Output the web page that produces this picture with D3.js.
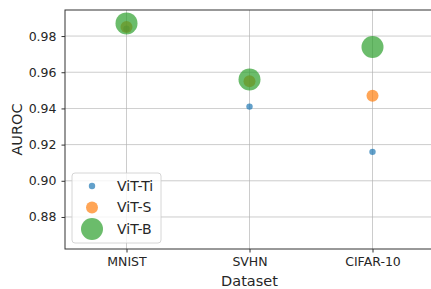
<!DOCTYPE html>
<html>
<head>
<meta charset="utf-8">
<script src="https://cdn.jsdelivr.net/npm/d3@7"></script>
<style>
  body { margin: 0; background: #fff; }
  text { font-family: "DejaVu Sans", sans-serif; fill: #262626; }
</style>
</head>
<body>
<div id="chart"></div>
<script>
// chart data
const datasets = ["MNIST", "SVHN", "CIFAR-10"];
const models = ["ViT-Ti", "ViT-S", "ViT-B"];
const vitTi = [0.984, 0.941, 0.916];
const vitS = [0.985, 0.955, 0.947];
const vitB = [0.987, 0.956, 0.974];
const yTicks = [0.88, 0.90, 0.92, 0.94, 0.96, 0.98];

const series = [
  {name: models[0], values: vitTi, color: "#1f77b4", r: 3.2},
  {name: models[1], values: vitS, color: "#ff7f0e", r: 6},
  {name: models[2], values: vitB, color: "#2ca02c", r: 11}
];

const svgWidth = 431, svgHeight = 289;
const margin = {top: 10, right: -3, bottom: 40, left: 65};
const width = svgWidth - margin.left - margin.right;
const height = svgHeight - margin.top - margin.bottom;

const svg = d3.select("#chart").append("svg")
  .attr("width", svgWidth)
  .attr("height", svgHeight);

const g = svg.append("g")
  .attr("transform", "translate(" + margin.left + "," + margin.top + ")");

const x = d3.scaleLinear().domain([-0.5, 2.5]).range([0, width]);
const y = d3.scaleLinear().domain([0.8623, 0.9944]).range([height, 0]);

// grid
g.append("g").selectAll("line").data(yTicks).enter().append("line")
  .attr("x1", 0).attr("x2", width)
  .attr("y1", d => y(d)).attr("y2", d => y(d))
  .attr("stroke", "#b0b0b0").attr("stroke-width", 0.8).attr("opacity", 0.8);
g.append("g").selectAll("line").data(datasets).enter().append("line")
  .attr("x1", (d, i) => x(i)).attr("x2", (d, i) => x(i))
  .attr("y1", 0).attr("y2", height)
  .attr("stroke", "#b0b0b0").attr("stroke-width", 0.8).attr("opacity", 0.8);

// axes
const xAxis = g.append("g")
  .attr("transform", "translate(0," + height + ")")
  .call(d3.axisBottom(x).tickValues([0, 1, 2]).tickFormat(i => datasets[i]).tickSize(3.5).tickPadding(5));
const yAxis = g.append("g")
  .call(d3.axisLeft(y).tickValues(yTicks).tickFormat(d3.format(".2f")).tickSize(3.5).tickPadding(5));
[xAxis, yAxis].forEach(a => {
  a.selectAll("text").style("font-size", "12.5px").style("font-family", "DejaVu Sans").attr("fill", "#262626");
  a.selectAll("line").attr("stroke", "#333");
  a.select(".domain").remove();
});

// frame
g.append("rect")
  .attr("x", 0).attr("y", 0).attr("width", width).attr("height", height)
  .attr("fill", "none").attr("stroke", "#333").attr("stroke-width", 1);

// points
series.forEach(s => {
  g.append("g").selectAll("circle").data(s.values).enter().append("circle")
    .attr("cx", (d, i) => x(i))
    .attr("cy", d => y(d))
    .attr("r", s.r)
    .attr("fill", s.color)
    .attr("fill-opacity", 0.7);
});

// axis labels
svg.append("text")
  .attr("x", margin.left + x(1)).attr("y", 286)
  .attr("text-anchor", "middle")
  .style("font-size", "14.5px")
  .text("Dataset");
svg.append("text")
  .attr("transform", "translate(22," + (margin.top + height / 2) + ") rotate(-90)")
  .attr("text-anchor", "middle")
  .style("font-size", "14.5px")
  .text("AUROC");

// legend
const legend = svg.append("g").attr("transform", "translate(72,173)");
legend.append("rect")
  .attr("width", 89).attr("height", 70).attr("rx", 3)
  .attr("fill", "#fff").attr("fill-opacity", 0.8)
  .attr("stroke", "#ccc").attr("stroke-width", 0.8);
series.forEach((s, i) => {
  const ly = 13 + i * 21.5;
  legend.append("circle")
    .attr("cx", 20).attr("cy", ly).attr("r", s.r)
    .attr("fill", s.color).attr("fill-opacity", 0.7);
  legend.append("text")
    .attr("x", 45).attr("y", ly).attr("dy", "0.35em")
    .style("font-size", "14px")
    .text(s.name);
});
</script>
</body>
</html>
